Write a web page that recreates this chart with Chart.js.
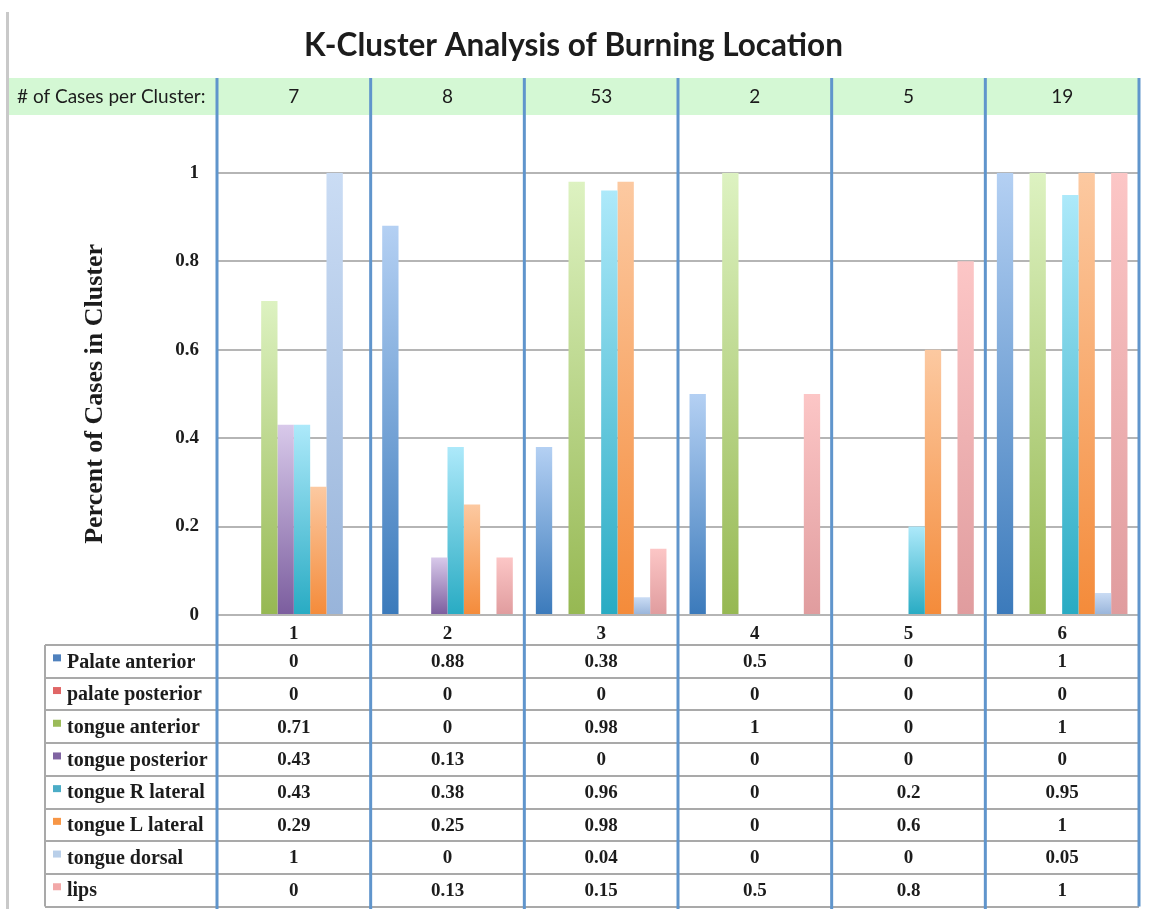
<!DOCTYPE html>
<html>
<head>
<meta charset="utf-8">
<title>K-Cluster Analysis of Burning Location</title>
<script src="https://cdn.jsdelivr.net/npm/chart.js@4.4.1/dist/chart.umd.min.js"></script>
<style>
  html, body { margin: 0; padding: 0; background: #fff; }
  #wrap { width: 1152px; height: 909px; position: relative; }
</style>
</head>
<body>
<div id="wrap"><canvas id="clusterChart"></canvas></div>
<script>
// --- data ---
const clusters = ['1', '2', '3', '4', '5', '6'];
const casesPerCluster = [7, 8, 53, 2, 5, 19];
const yTicks = [0, 0.2, 0.4, 0.6, 0.8, 1];

const locationNames = ['Palate anterior', 'palate posterior', 'tongue anterior', 'tongue posterior',
  'tongue R lateral', 'tongue L lateral', 'tongue dorsal', 'lips'];

const palateAnterior   = [0, 0.88, 0.38, 0.5, 0, 1];
const palatePosterior  = [0, 0, 0, 0, 0, 0];
const tongueAnterior   = [0.71, 0, 0.98, 1, 0, 1];
const tonguePosterior  = [0.43, 0.13, 0, 0, 0, 0];
const tongueRLateral   = [0.43, 0.38, 0.96, 0, 0.2, 0.95];
const tongueLLateral   = [0.29, 0.25, 0.98, 0, 0.6, 1];
const tongueDorsal     = [1, 0, 0.04, 0, 0, 0.05];
const lips             = [0, 0.13, 0.15, 0.5, 0.8, 1];

const seriesValues = [palateAnterior, palatePosterior, tongueAnterior, tonguePosterior,
  tongueRLateral, tongueLLateral, tongueDorsal, lips];

// top / bottom colours of each bar gradient, and the swatch colour in the table
const topColors    = ['#b4d0f3', '#f3a6a4', '#ddf2c1', '#d8c9ea', '#ade9fa', '#fcc9a1', '#cadcf4', '#fcc6c6'];
const bottomColors = ['#3b7abb', '#c0504d', '#96b852', '#7b5d9e', '#28abc3', '#f48b3a', '#98b4da', '#e09c9e'];
const swatchColors = ['#4f81bd', '#e06666', '#9bbb59', '#8064a2', '#4bacc6', '#f79646', '#b9cfe9', '#f2a8a8'];

const serif = "'Liberation Serif', 'DejaVu Serif', serif";
const sans = "Lato, 'Open Sans', sans-serif";
const ink = '#1c1c1c';
const blueLine = '#6095cc';
const gridGray = '#b5b5b5';

// --- gradient per bar, from its base to its top ---
function barGradient(i) {
  return (c) => {
    const chart = c.chart;
    const y = chart.scales.y;
    if (!chart.chartArea || !y || c.raw === undefined) return bottomColors[i];
    const base = y.getPixelForValue(0);
    let top = y.getPixelForValue(c.raw);
    if (base - top < 1) top = base - 1;
    const g = chart.ctx.createLinearGradient(0, base, 0, top);
    g.addColorStop(0, bottomColors[i]);
    g.addColorStop(1, topColors[i]);
    return g;
  };
}

const datasets = seriesValues.map((vals, i) => ({
  label: locationNames[i],
  data: vals,
  backgroundColor: barGradient(i),
  borderWidth: 0,
  categoryPercentage: 0.85,
  barPercentage: 1.0,
}));

// --- layout numbers for the decorations ---
const headerTop = 78, headerBottom = 115;
const tableTop = 645, rowH = 32.7, legendLeft = 45;

const decorPlugin = {
  id: 'decor',
  beforeDraw(chart) {
    const { ctx, width, height } = chart;
    ctx.save();
    ctx.fillStyle = '#fff';
    ctx.fillRect(0, 0, width, height);
    // page edge line on the left
    ctx.fillStyle = '#c9c9c9';
    ctx.fillRect(6, 12, 3, height - 12);
    // green header band
    ctx.fillStyle = '#d4f8d4';
    ctx.fillRect(9, headerTop, 1131, headerBottom - headerTop);
    ctx.restore();
  },
  afterDraw(chart) {
    const { ctx, chartArea } = chart;
    const x = chart.scales.x;
    const colW = (chartArea.right - chartArea.left) / clusters.length;
    ctx.save();

    // header text
    ctx.fillStyle = ink;
    ctx.font = '19px ' + sans;
    ctx.textBaseline = 'middle';
    ctx.textAlign = 'left';
    const hy = (headerTop + headerBottom) / 2;
    ctx.fillText('# of Cases per Cluster:', 17, hy);
    ctx.textAlign = 'center';
    casesPerCluster.forEach((n, i) => ctx.fillText(String(n), x.getPixelForValue(i), hy));

    // table grid
    const tableBottom = tableTop + rowH * seriesValues.length;
    ctx.strokeStyle = '#a9a9a9';
    ctx.lineWidth = 2;
    for (let r = 0; r <= seriesValues.length; r++) {
      const yy = Math.round(tableTop + r * rowH);
      ctx.beginPath();
      ctx.moveTo(legendLeft, yy);
      ctx.lineTo(chartArea.right, yy);
      ctx.stroke();
    }
    ctx.beginPath();
    ctx.moveTo(legendLeft, tableTop);
    ctx.lineTo(legendLeft, tableBottom);
    ctx.stroke();

    // table rows: swatch, label, values
    seriesValues.forEach((vals, r) => {
      const cy = tableTop + r * rowH + rowH / 2 + 1;
      ctx.fillStyle = swatchColors[r];
      ctx.fillRect(53, cy - 8, 8, 7);
      ctx.fillStyle = ink;
      ctx.font = 'bold 20px ' + serif;
      ctx.textAlign = 'left';
      ctx.fillText(locationNames[r], 67, cy);
      ctx.font = 'bold 19px ' + serif;
      ctx.textAlign = 'center';
      vals.forEach((v, i) => ctx.fillText(String(v), x.getPixelForValue(i), cy));
    });

    // blue column separators
    ctx.strokeStyle = blueLine;
    ctx.lineWidth = 3;
    for (let i = 0; i <= clusters.length; i++) {
      const xx = chartArea.left + i * colW;
      ctx.beginPath();
      ctx.moveTo(xx, headerTop);
      ctx.lineTo(xx, i === clusters.length ? tableBottom : chart.height);
      ctx.stroke();
    }
    ctx.restore();
  }
};

const chart = new Chart(document.getElementById('clusterChart'), {
  type: 'bar',
  data: { labels: clusters, datasets: datasets },
  options: {
    responsive: true,
    maintainAspectRatio: false,
    animation: false,
    layout: { padding: { left: 8, right: 13, top: 0, bottom: 264 } },
    scales: {
      x: {
        grid: { display: false, drawTicks: false },
        border: { display: false },
        ticks: { color: ink, font: { family: serif, size: 19, weight: 'bold' }, padding: 8 },
        afterFit(scale) { scale.height = 30; }
      },
      y: {
        min: 0,
        max: 1,
        afterBuildTicks(scale) { scale.ticks = yTicks.map(v => ({ value: v })); },
        grid: { color: gridGray, lineWidth: 2, drawTicks: false },
        border: { display: false },
        ticks: {
          color: ink,
          padding: 18,
          font: { family: serif, size: 19, weight: 'bold' },
          callback: (v) => String(v)
        },
        title: {
          display: true,
          text: 'Percent of Cases in Cluster',
          color: ink,
          font: { family: serif, size: 26, weight: 'bold' },
          padding: { top: 72, bottom: 0 }
        },
        afterFit(scale) { scale.width = 209; }
      }
    },
    plugins: {
      legend: { display: false },
      tooltip: { enabled: false },
      title: {
        display: true,
        text: 'K-Cluster Analysis of Burning Location',
        color: ink,
        font: { family: sans, size: 31.5, weight: 'bold' },
        padding: { top: 27, bottom: 108 }
      }
    }
  },
  plugins: [decorPlugin]
});
</script>
</body>
</html>
